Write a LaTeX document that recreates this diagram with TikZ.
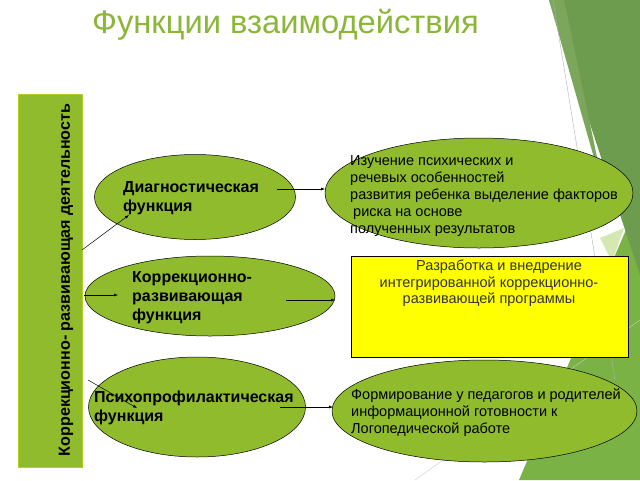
\documentclass[tikz,border=0pt]{standalone}
\usepackage{fontspec}
\setmainfont{Liberation Sans}
\usetikzlibrary{shapes.geometric,arrows.meta}
\definecolor{fgreen}{RGB}{143,187,44}
\definecolor{titlegreen}{RGB}{140,182,58}
\definecolor{darkfacet}{RGB}{110,156,78}
\definecolor{lightfacet}{RGB}{124,166,92}
\definecolor{botfacet}{RGB}{122,178,70}
\definecolor{palefacet}{RGB}{214,232,178}
\definecolor{boxyellow}{RGB}{255,255,0}
\begin{document}
\begin{tikzpicture}[x=1pt,y=-1pt,
  ell/.style={ellipse,draw=black,line width=0.5pt,fill=fgreen,inner sep=0pt},
  arr/.style={draw=black,line width=0.5pt,-{Latex[length=4pt,width=3pt]}},
  boldtxt/.style={font=\bfseries\fontsize{16}{19}\selectfont,align=left,inner sep=0pt,anchor=west},
  smalltxt/.style={font=\fontsize{14.5}{17}\selectfont,align=left,inner sep=0pt,anchor=west}]
\useasboundingbox (0,0) rectangle (640,480);
\fill[white] (0,0) rectangle (640,480);
% decorative facets
\fill[botfacet] (640,197) -- (640,480) -- (519,480) -- cycle;
\fill[palefacet] (600,238) -- (624,228) -- (612,262) -- cycle;
\fill[darkfacet] (549,0) -- (640,0) -- (640,275) -- cycle;
\fill[lightfacet] (549,0) -- (564,0) -- (606,200) -- cycle;
\draw[gray!60,line width=0.4pt] (553,0) -- (615,380);
\draw[gray!40,line width=0.4pt] (415,480) -- (640,320);
% title
\node[font=\fontsize{32.7}{36}\selectfont,text=titlegreen,inner sep=0pt] (title) at (285.5,25) {Функции взаимодействия};
% left bar
\node[draw=fgreen!70!yellow,line width=0.5pt,fill=fgreen,minimum width=64pt,minimum height=373pt,inner sep=0pt] (bar) at (50,280.5) {};
\node[rotate=90,font=\bfseries\fontsize{16.1}{19}\selectfont,inner sep=0pt] (vt) at (66,280) {Коррекционно- развивающая деятельность};
% left ellipses
\node[ell,minimum width=201pt,minimum height=85pt] (e1) at (195,197) {};
\node[ell,minimum width=250pt,minimum height=80pt] (e2) at (210,296) {};
\node[ell,minimum width=217pt,minimum height=100pt] (e3) at (197,407) {};
\node[boldtxt] (t1) at (123,198.5) {Диагностическая\\функция};
\node[boldtxt] (t2) at (132,297.5) {Коррекционно-\\развивающая\\функция};
\node[boldtxt] (t3) at (94,407.5) {Психопрофилактическая\\функция};
% right shapes
\node[ell,minimum width=308pt,minimum height=110pt] (eA) at (479,193) {};
\node[draw=black,line width=0.5pt,fill=boxyellow,minimum width=277pt,minimum height=101pt,inner sep=0pt] (box) at (489.5,306.5) {};
\node[ell,minimum width=305pt,minimum height=102pt] (eC) at (484.5,411) {};
\node[smalltxt] (tA) at (350,196) {Изучение психических и\\речевых особенностей\\развития ребенка выделение факторов\\\hspace*{3pt}риска на основе\\полученных результатов};
\node[font=\fontsize{14.5}{16.5}\selectfont,align=center,inner sep=0pt,text=black!80] (tB) at (489,283.5) {\hspace*{20pt}Разработка и внедрение\\интегрированной коррекционно-\\развивающей программы};
\node[smalltxt] (tC) at (351,412.5) {Формирование у педагогов и родителей\\информационной готовности к\\Логопедической работе};
% arrows
\coordinate (b1) at (82,250); \coordinate (h1) at (129,215);
\coordinate (b2) at (84,295); \coordinate (h2) at (118,295);
\coordinate (b3) at (88,380); \coordinate (h3) at (137,408);
\coordinate (r1) at (277,189); \coordinate (q1) at (325,189);
\coordinate (r2) at (286,300); \coordinate (q2) at (335,300);
\coordinate (r3) at (280,407); \coordinate (q3) at (333,407);
\draw[arr] (b1) -- (h1);
\draw[arr] (b2) -- (h2);
\draw[arr] (b3) -- (h3);
\draw[arr] (r1) -- (q1);
\draw[arr] (r2) -- (q2);
\draw[arr] (r3) -- (q3);
\end{tikzpicture}
\end{document}
